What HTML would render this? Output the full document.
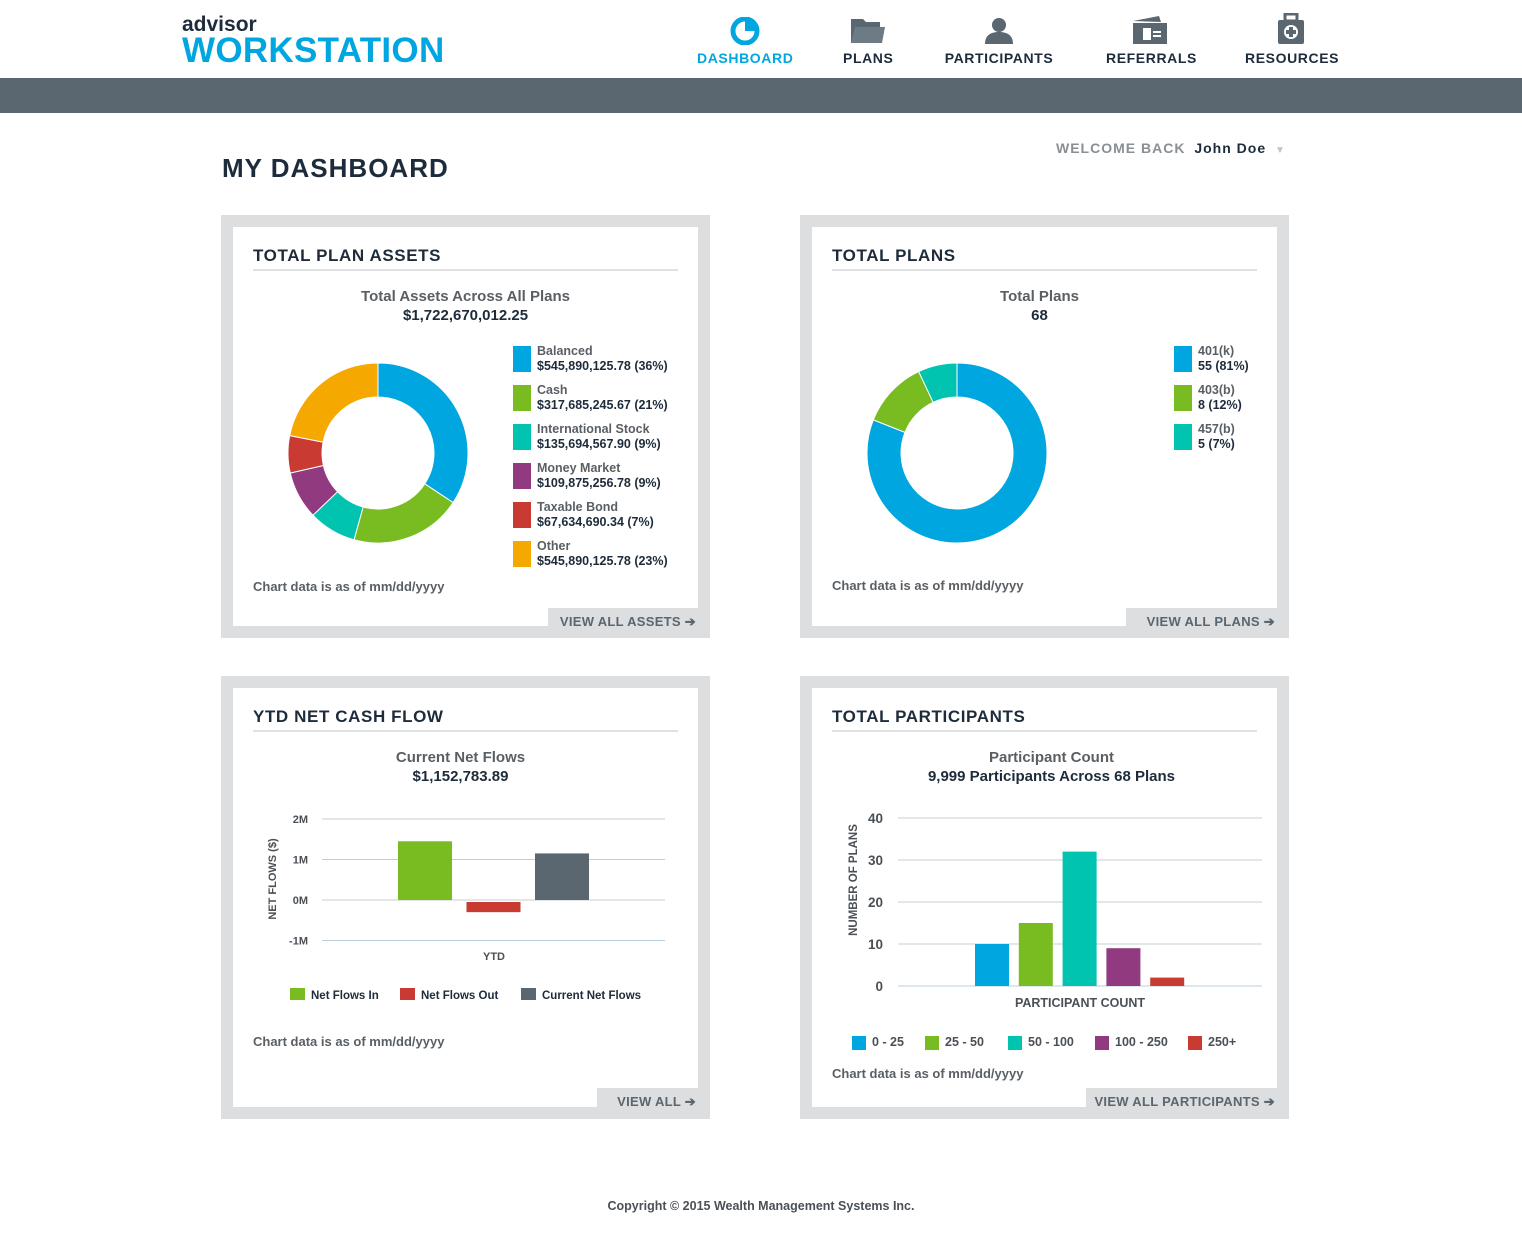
<!DOCTYPE html>
<html><head><meta charset="utf-8">
<style>
*{margin:0;padding:0;box-sizing:border-box}
body{width:1522px;height:1251px;background:#fff;position:relative;font-family:"Liberation Sans",sans-serif;color:#1d2b3a;overflow:hidden}
.abs{position:absolute}
.nav{position:absolute;top:50px;font-size:14px;font-weight:bold;letter-spacing:.6px;color:#1d2b3a;text-align:center}
.card{position:absolute;background:#dcdedf}
.inner{position:absolute;left:12px;top:12px;right:12px;bottom:12px;background:#fff}
.ttl{position:absolute;left:20px;top:20px;font-size:17px;font-weight:bold;letter-spacing:.6px;color:#1d2b3a}
.rule{position:absolute;left:20px;right:20px;top:42px;height:2px;background:#dfe1e3}
.sub{position:absolute;left:0;right:0;text-align:center;font-size:15px;line-height:19px}
.sub b{color:#1d2b3a}
.sub span{color:#5a5f64;font-weight:bold}
.note{position:absolute;font-size:13px;color:#5a5f64;font-weight:bold}
.tab{position:absolute;right:0;bottom:0;background:#dcdedf;font-size:13px;font-weight:bold;color:#5a6670;text-align:right;padding-right:14px;padding-top:6px;letter-spacing:.3px}
.leg{position:absolute;font-size:12.5px;line-height:15px;font-weight:bold}
.leg .sw{position:absolute;left:0;top:2px;width:18px;height:26px}
.leg .t1{position:absolute;left:24px;top:0;color:#5a5f64;white-space:nowrap}
.leg .t2{position:absolute;left:24px;top:15px;color:#1d2b3a;white-space:nowrap}
svg text{font-family:"Liberation Sans",sans-serif}
</style></head><body>
<div class="abs" style="left:182px;top:14px">
 <div style="font-size:21px;font-weight:bold;color:#1d2b3a;line-height:22px">advisor</div>
 <div style="font-size:35px;font-weight:bold;color:#00a6e0;line-height:30px;letter-spacing:0.3px">WORKSTATION</div>
</div>
<div class="nav" style="left:697px;width:96px;color:#00a6e0">
 <svg class="abs" style="left:33px;top:-33px" width="30" height="28"><circle cx="15" cy="14" r="12" fill="none" stroke="#00a6e0" stroke-width="5"/><path d="M15 2 A12 12 0 0 1 27 14 L15 14Z" fill="#00a6e0"/></svg>DASHBOARD</div>
<div class="nav" style="left:843px;width:50px">
 <svg class="abs" style="left:7px;top:-33px" width="36" height="28"><path d="M1 2h12l3 3h14v21H1z" fill="#5a6670"/><path d="M5 10h30l-3 16H1z" fill="#6e7a84"/></svg>PLANS</div>
<div class="nav" style="left:944px;width:110px">
 <svg class="abs" style="left:40px;top:-33px" width="30" height="28"><circle cx="15" cy="8" r="7" fill="#5a6670"/><path d="M1 27c0-9 6-12 14-12s14 3 14 12z" fill="#5a6670"/></svg>PARTICIPANTS</div>
<div class="nav" style="left:1106px;width:88px">
 <svg class="abs" style="left:25px;top:-35px" width="38" height="30"><path d="M2 6l26-5 2 6z" fill="#5a6670"/><rect x="2" y="8" width="34" height="21" fill="#5a6670"/><rect x="12" y="13" width="8" height="12" fill="#fff"/><rect x="22" y="16" width="8" height="2" fill="#fff"/><rect x="22" y="20" width="8" height="2" fill="#fff"/></svg>REFERRALS</div>
<div class="nav" style="left:1245px;width:91px">
 <svg class="abs" style="left:31px;top:-37px" width="30" height="32"><rect x="9" y="1" width="12" height="7" fill="none" stroke="#5a6670" stroke-width="3"/><rect x="2" y="7" width="26" height="24" rx="2" fill="#5a6670"/><circle cx="15" cy="19" r="7" fill="#fff"/><rect x="13" y="14" width="4" height="10" fill="#5a6670"/><rect x="10" y="17" width="10" height="4" fill="#5a6670"/></svg>RESOURCES</div>
<div class="abs" style="left:0;top:78px;width:1522px;height:35px;background:#5a6670"></div>

<div class="abs" style="left:222px;top:153px;font-size:26px;font-weight:bold;letter-spacing:1px;color:#1d2b3a">MY DASHBOARD</div>
<div class="abs" style="left:1056px;top:140px;font-size:14px;font-weight:bold;letter-spacing:1px;white-space:nowrap"><span style="color:#8a8f94">WELCOME BACK</span> <span style="color:#1d2b3a;margin-left:4px">John Doe</span> <span style="color:#c0c4c8;font-size:10px;margin-left:4px">▼</span></div>

<!-- Card 1 -->
<div class="card" style="left:221px;top:215px;width:489px;height:423px">
 <div class="inner"></div>
 <div class="ttl" style="left:32px;top:31px">TOTAL PLAN ASSETS</div>
 <div class="rule" style="left:32px;right:32px;top:54px"></div>
 <div class="sub" style="top:72px"><span>Total Assets Across All Plans</span><br><b>$1,722,670,012.25</b></div>
 <div class="note" style="left:32px;top:364px">Chart data is as of mm/dd/yyyy</div>
 <div class="tab" style="width:162px;height:30px">VIEW ALL ASSETS ➔</div>
</div>
<!-- Card 2 -->
<div class="card" style="left:800px;top:215px;width:489px;height:423px">
 <div class="inner"></div>
 <div class="ttl" style="left:32px;top:31px">TOTAL PLANS</div>
 <div class="rule" style="left:32px;right:32px;top:54px"></div>
 <div class="sub" style="top:72px;left:-10px"><span>Total Plans</span><br><b>68</b></div>
 <div class="note" style="left:32px;top:363px">Chart data is as of mm/dd/yyyy</div>
 <div class="tab" style="width:163px;height:30px">VIEW ALL PLANS ➔</div>
</div>
<!-- Card 3 -->
<div class="card" style="left:221px;top:676px;width:489px;height:443px">
 <div class="inner"></div>
 <div class="ttl" style="left:32px;top:31px">YTD NET CASH FLOW</div>
 <div class="rule" style="left:32px;right:32px;top:54px"></div>
 <div class="sub" style="top:72px;left:-10px"><span>Current Net Flows</span><br><b>$1,152,783.89</b></div>
 <div class="note" style="left:32px;top:358px">Chart data is as of mm/dd/yyyy</div>
 <div class="tab" style="width:113px;height:31px">VIEW ALL ➔</div>
</div>
<!-- Card 4 -->
<div class="card" style="left:800px;top:676px;width:489px;height:443px">
 <div class="inner"></div>
 <div class="ttl" style="left:32px;top:31px">TOTAL PARTICIPANTS</div>
 <div class="rule" style="left:32px;right:32px;top:54px"></div>
 <div class="sub" style="top:72px;left:14px"><span>Participant Count</span><br><b>9,999 Participants Across 68 Plans</b></div>
 <div class="note" style="left:32px;top:390px">Chart data is as of mm/dd/yyyy</div>
 <div class="tab" style="width:203px;height:31px">VIEW ALL PARTICIPANTS ➔</div>
</div>

<div class="abs" style="left:0;width:1522px;top:1199px;text-align:center;font-size:12.5px;font-weight:bold;color:#4a5056">Copyright © 2015 Wealth Management Systems Inc.</div>

<svg id="chart" class="abs" style="left:0;top:0" width="1522" height="1251"></svg>

<div id="legends"></div>

<script>
const assetCats=["Balanced","Cash","International Stock","Money Market","Taxable Bond","Other"];
const assetVals=["$545,890,125.78","$317,685,245.67","$135,694,567.90","$109,875,256.78","$67,634,690.34","$545,890,125.78"];
const assetPcts=[36,21,9,9,7,23];
const assetColors=["#00a6e0","#78bc21","#00c4b0","#913a80","#c83a32","#f5a800"];
const planCats=["401(k)","403(b)","457(b)"];
const planCounts=[55,8,5];
const planPcts=[81,12,7];
const planColors=["#00a6e0","#78bc21","#00c4b0"];
const flowCats=["Net Flows In","Net Flows Out","Current Net Flows"];
const flowVals=[1.45,-0.3,1.15];
const flowTicks=[2,1,0,-1];
const flowColors=["#78bc21","#c83a32","#5a6670"];
const partCats=["0 - 25","25 - 50","50 - 100","100 - 250","250+"];
const partVals=[10,15,32,9,2];
const partTicks=[40,30,20,10,0];
const partColors=["#00a6e0","#78bc21","#00c4b0","#913a80","#c83a32"];

const NS="http://www.w3.org/2000/svg";
const svg=document.getElementById('chart');
function mk(tag,attrs,parent){const e=document.createElementNS(NS,tag);for(const k in attrs)e.setAttribute(k,attrs[k]);(parent||svg).appendChild(e);return e;}

function donut(cx,cy,R,r,vals,colors,name){
 const tot=vals.reduce((a,b)=>a+b,0);let a0=0;
 vals.forEach((v,i)=>{
  const a1=a0+v/tot*Math.PI*2;
  const p=(a,rad)=>[cx+rad*Math.sin(a),cy-rad*Math.cos(a)];
  const [x0,y0]=p(a0,R),[x1,y1]=p(a1,R),[x2,y2]=p(a1,r),[x3,y3]=p(a0,r);
  const lg=(a1-a0)>Math.PI?1:0;
  const el=mk('path',{d:`M${x0} ${y0}A${R} ${R} 0 ${lg} 1 ${x1} ${y1}L${x2} ${y2}A${r} ${r} 0 ${lg} 0 ${x3} ${y3}Z`,fill:colors[i],stroke:'#fff','stroke-width':1});
  
  
  a0=a1;
 });
}
donut(378,453,90,56,assetPcts,assetColors,'assets');
donut(957,453,90,56,planPcts,planColors,'plans');

const legs=document.getElementById('legends');
function legend(x,y,cats,l2,colors,name){
 cats.forEach((c,i)=>{
  const d=document.createElement('div');d.className='leg';
  d.style.left=x+'px';d.style.top=(y+i*39)+'px';
  
  
  d.innerHTML=`<div class="sw" style="background:${colors[i]}"></div><div class="t1">${c}</div><div class="t2">${l2[i]}</div>`;
  legs.appendChild(d);
 });
}
legend(513,344,assetCats,assetVals.map((v,i)=>v+' ('+assetPcts[i]+'%)'),assetColors,'assets');
legend(1174,344,planCats,planCounts.map((v,i)=>v+' ('+planPcts[i]+'%)'),planColors,'plans');

// Cash flow chart
const fy=v=>900-v*40.5;
flowTicks.forEach(t=>{
 const l=mk('line',{x1:322,x2:665,y1:fy(t),y2:fy(t),stroke:t===-1?'#b9cfdf':'#c8ccd0','stroke-width':1});
 
 
 const tx=mk('text',{x:308,y:fy(t)+4,'text-anchor':'end','font-size':11,'font-weight':'bold',fill:'#4a5056'});tx.textContent=t+'M';
 
 
});
const fx0=398,fstep=68.5,fw=54;
flowVals.forEach((v,i)=>{
 const y0=fy(Math.max(v,0)),h=Math.abs(fy(v)-fy(0));
 const r=mk('rect',{x:fx0+i*fstep,y:v<0?fy(0)+2:y0,width:fw,height:v<0?h-2:h,fill:flowColors[i]});
 
 
});
let t=mk('text',{x:494,y:960,'text-anchor':'middle','font-size':11,'font-weight':'bold',fill:'#4a5056'});t.textContent='YTD';


t=mk('text',{x:276,y:879,'text-anchor':'middle','font-size':11,'font-weight':'bold',fill:'#4a5056',transform:'rotate(-90 276 879)'});t.textContent='NET FLOWS ($)';


const flx=[290,400,521];
flowCats.forEach((c,i)=>{
 const r=mk('rect',{x:flx[i],y:988,width:15,height:12,fill:flowColors[i]});
 
 
 const tx=mk('text',{x:flx[i]+21,y:999,'font-size':11.5,'font-weight':'bold',fill:'#1d2b3a'});tx.textContent=c;
 
 
});

// Participants chart
const py=v=>986-v*4.2;
partTicks.forEach(tk=>{
 const l=mk('line',{x1:898,x2:1262,y1:py(tk),y2:py(tk),stroke:tk===0?'#b9cfdf':'#c8ccd0','stroke-width':1});
 
 
 const tx=mk('text',{x:883,y:py(tk)+5,'text-anchor':'end','font-size':13.5,'font-weight':'bold',fill:'#4a5056'});tx.textContent=tk;
 
 
});
const px0=975,pstep=43.8,pw=34;
partVals.forEach((v,i)=>{
 const r=mk('rect',{x:px0+i*pstep,y:py(v),width:pw,height:py(0)-py(v),fill:partColors[i]});
 
 
});
t=mk('text',{x:1080,y:1007,'text-anchor':'middle','font-size':12.5,'font-weight':'bold',fill:'#4a5056'});t.textContent='PARTICIPANT COUNT';


t=mk('text',{x:857,y:880,'text-anchor':'middle','font-size':11.5,'font-weight':'bold',fill:'#4a5056',transform:'rotate(-90 857 880)'});t.textContent='NUMBER OF PLANS';


const plx=[852,925,1008,1095,1188];
partCats.forEach((c,i)=>{
 const r=mk('rect',{x:plx[i],y:1036,width:14,height:14,fill:partColors[i]});
 
 
 const tx=mk('text',{x:plx[i]+20,y:1046,'font-size':12.5,'font-weight':'bold',fill:'#4a5056'});tx.textContent=c;
 
 
});
</script>
</body></html>
